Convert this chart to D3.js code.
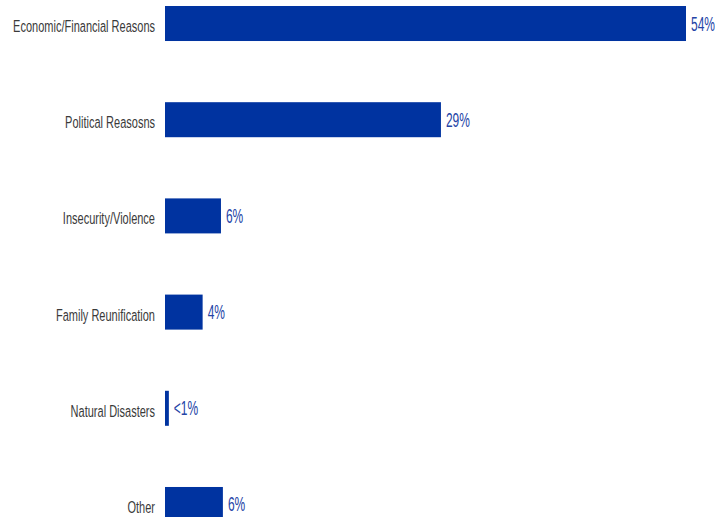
<!DOCTYPE html>
<html>
<head>
<meta charset="utf-8">
<script src="https://cdn.jsdelivr.net/npm/d3@7"></script>
<style>
  html, body { margin: 0; padding: 0; background: #fff; overflow: hidden; }
  svg { display: block; }
</style>
</head>
<body>
<svg id="chart" width="715" height="517"></svg>
<script>
const categories = ["Economic/Financial Reasons", "Political Reasosns", "Insecurity/Violence", "Family Reunification", "Natural Disasters", "Other"];
const values = [54, 28.6, 5.8, 3.9, 0.4, 6.0];
const valueLabels = ["54%", "29%", "6%", "4%", "<1%", "6%"];

const data = categories.map((c, i) => ({ cat: c, v: values[i], lab: valueLabels[i] }));

const svg = d3.select("#chart");
const x = d3.scaleLinear().domain([0, 54]).range([165, 686]);
const y = d3.scaleBand().domain(categories).range([6, 522]).paddingInner(0.636).paddingOuter(0);

const barColor = "#0033a0";
const fontFam = "'Liberation Sans Narrow', 'Arial Narrow', 'Liberation Sans', Arial, sans-serif";

svg.selectAll("rect.bar").data(data).join("rect")
  .attr("class", "bar")
  .attr("x", x(0))
  .attr("y", d => y(d.cat))
  .attr("width", d => x(d.v) - x(0))
  .attr("height", y.bandwidth())
  .attr("fill", barColor);

// category labels
const catG = svg.selectAll("g.cat").data(data).join("g")
  .attr("class", "cat");
const catT = catG.append("text")
  .attr("text-anchor", "end")
  .attr("font-family", fontFam)
  .attr("font-size", 16.5)
  .attr("fill", "#3a3a3a")
  .text(d => d.cat);
const refLen = catT.nodes()[0].getComputedTextLength();
const fc = 142 / refLen;
catG.attr("transform", d => `translate(155,${y(d.cat) + y.bandwidth() / 2 + 8.5}) scale(${fc},1)`);

// value labels
const valG = svg.selectAll("g.val").data(data).join("g").attr("class", "val");
const valT = valG.append("text")
  .attr("font-family", fontFam)
  .attr("font-size", 20.5)
  .attr("fill", "#2444a6")
  .text(d => d.lab);
const refV = valT.nodes()[0].getComputedTextLength();
const fv = 24 / refV;
valG.attr("transform", d => `translate(${x(d.v) + 5},${y(d.cat) + y.bandwidth() / 2 + 7}) scale(${fv},1)`);
</script>
</body>
</html>
